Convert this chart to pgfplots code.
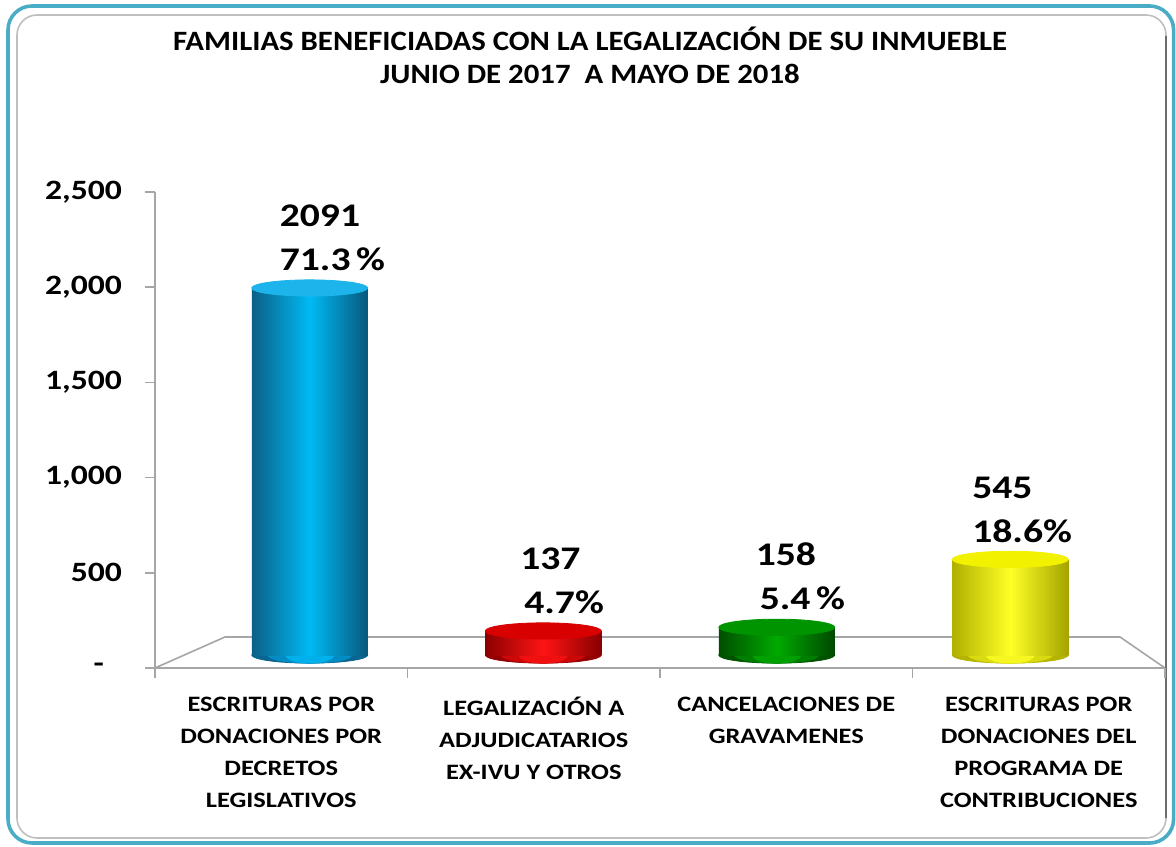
\documentclass[border=0pt]{standalone}
\usepackage{pgfplots}
\pgfplotsset{compat=1.18}
\usepackage{fontspec}
\setmainfont{Carlito}
\newfontfamily\titlefont[FakeStretch=1.1]{Carlito}
\newfontfamily\widefont[FakeStretch=1.2]{Carlito}
\definecolor{frameteal}{HTML}{4BACC6}
\definecolor{axgray}{HTML}{A6A6A6}
\definecolor{bL}{HTML}{0B5F86}\definecolor{bM}{HTML}{00BAF4}\definecolor{bR}{HTML}{08587C}\definecolor{bT}{HTML}{1CB4EA}
\definecolor{rL}{HTML}{8A0000}\definecolor{rM}{HTML}{FF1414}\definecolor{rR}{HTML}{880000}\definecolor{rT}{HTML}{D80000}
\definecolor{gL}{HTML}{004E00}\definecolor{gM}{HTML}{00AA00}\definecolor{gR}{HTML}{004800}\definecolor{gT}{HTML}{009400}
\definecolor{yL}{HTML}{B0B000}\definecolor{yM}{HTML}{FFFF26}\definecolor{yR}{HTML}{A4A400}\definecolor{yT}{HTML}{F2F200}
\definecolor{bB1}{HTML}{0A6590}\definecolor{bB2}{HTML}{048DC4}\definecolor{bB3}{HTML}{00B0EA}
\definecolor{rB1}{HTML}{950000}\definecolor{rB2}{HTML}{CC0808}\definecolor{rB3}{HTML}{F01010}
\definecolor{gB1}{HTML}{005400}\definecolor{gB2}{HTML}{007E00}\definecolor{gB3}{HTML}{00A000}
\definecolor{yB1}{HTML}{B4B400}\definecolor{yB2}{HTML}{DADA10}\definecolor{yB3}{HTML}{F6F620}
\newcommand\band[4]{\addplot[only marks, mark=*, mark size=#2, mark options={yscale=#3, fill=#4, draw=#4}] coordinates {(#1,0)};}
\pgfplotsset{barframe/.style={scale only axis, width=467pt, height=219.4pt,
  at={(96.5pt,95.5pt)}, anchor=south west,
  xmin=-0.5, xmax=3.5, ymin=0, ymax=2500, hide axis, clip=false}}
\begin{document}
\begin{tikzpicture}
\path[use as bounding box] (0pt,0pt) rectangle (588pt,423pt);
\draw[frameteal, line width=1.8pt, rounded corners=12pt] (4pt,1.5pt) rectangle (586.8pt,420pt);
\draw[gray!50, line width=0.8pt, rounded corners=10pt] (8.5pt,4pt) rectangle (583pt,415.5pt);
\draw[gray!85!black, line width=0.9pt] (583pt,405pt) -- (583pt,14pt);
\node[font=\titlefont\bfseries\fontsize{14}{16.5}\selectfont, align=center] at (295pt,395.5pt)
  {FAMILIAS BENEFICIADAS CON LA LEGALIZACIÓN DE SU INMUEBLE\\JUNIO DE 2017 \ A MAYO DE 2018};
% floor
\draw[axgray, line width=0.8pt] (77.5pt,89pt) -- (112.5pt,104.5pt) -- (560pt,104.5pt) -- (582.5pt,89pt);
\begin{axis}[
  scale only axis, width=505pt, height=238pt,
  at={(77.5pt,89pt)}, anchor=south west,
  xmin=-0.5, xmax=3.5, ymin=0, ymax=2500,
  axis x line*=bottom, axis y line*=left,
  axis line style={draw=axgray, line width=0.8pt},
  tick align=outside,
  xtick={0,1,2,3},
  xticklabels={{ESCRITURAS POR\\DONACIONES POR\\DECRETOS\\LEGISLATIVOS},
               {LEGALIZACIÓN A\\ADJUDICATARIOS\\EX-IVU Y OTROS},
               {CANCELACIONES DE\\GRAVAMENES},
               {ESCRITURAS POR\\DONACIONES DEL\\PROGRAMA DE\\CONTRIBUCIONES}},
  xticklabel style={align=center, font=\widefont\bfseries\fontsize{11}{16}\selectfont, yshift=-6pt},
  major x tick style={draw=none},
  extra x ticks={-0.5,0.5,1.5,2.5,3.5},
  extra x tick labels={},
  extra x tick style={major tick length=5pt, major x tick style={draw=axgray, line width=0.8pt}},
  ytick={0,500,1000,1500,2000,2500},
  yticklabels={{-\hspace*{9pt}},500,{1,000},{1,500},{2,000},{2,500}},
  yticklabel style={font=\widefont\bfseries\fontsize{14}{16}\selectfont, xshift=-8pt},
  major y tick style={draw=axgray, line width=0.8pt},
  major tick length=5pt,
]
\end{axis}
% rounded bottoms of the cylinders (banded to suggest shading)
\begin{axis}[barframe]
\band{0}{29pt}{0.14}{bB1}\band{0}{21pt}{0.1933}{bB2}\band{0}{12pt}{0.338}{bB3}
\band{1}{29pt}{0.14}{rB1}\band{1}{21pt}{0.1933}{rB2}\band{1}{12pt}{0.338}{rB3}
\band{2}{29pt}{0.14}{gB1}\band{2}{21pt}{0.1933}{gB2}\band{2}{12pt}{0.338}{gB3}
\band{3}{29pt}{0.14}{yB1}\band{3}{21pt}{0.1933}{yB2}\band{3}{12pt}{0.338}{yB3}
\end{axis}
\begin{axis}[barframe]
% bars
\addplot[ybar, bar width=58pt, bar shift=0pt, draw=none, left color=bL, right color=bR, middle color=bM] coordinates {(0,2091)};
\addplot[ybar, bar width=58pt, bar shift=0pt, draw=none, left color=rL, right color=rR, middle color=rM] coordinates {(1,137)};
\addplot[ybar, bar width=58pt, bar shift=0pt, draw=none, left color=gL, right color=gR, middle color=gM] coordinates {(2,158)};
\addplot[ybar, bar width=58pt, bar shift=0pt, draw=none, left color=yL, right color=yR, middle color=yM] coordinates {(3,545)};
% tops
\addplot[only marks, mark=*, mark size=29pt, mark options={yscale=0.14, fill=bT, draw=bT}] coordinates {(0,2091)};
\addplot[only marks, mark=*, mark size=29pt, mark options={yscale=0.14, fill=rT, draw=rT}] coordinates {(1,137)};
\addplot[only marks, mark=*, mark size=29pt, mark options={yscale=0.14, fill=gT, draw=gT}] coordinates {(2,158)};
\addplot[only marks, mark=*, mark size=29pt, mark options={yscale=0.14, fill=yT, draw=yT}] coordinates {(3,545)};
% labels
\pgfplotsset{every node near coord/.append style={font=\widefont\bfseries\fontsize{16.5}{22}\selectfont, align=left, anchor=south west, yshift=5pt, text=black}}
\addplot[draw=none, mark=none, nodes near coords={2091\\71.3\,\%}, nodes near coords style={xshift=-18.5pt}] coordinates {(0,2091)};
\addplot[draw=none, mark=none, nodes near coords={137\\\hspace*{2pt}4.7\%}, nodes near coords style={xshift=-15pt}] coordinates {(1,137)};
\addplot[draw=none, mark=none, nodes near coords={158\\\hspace*{2pt}5.4\,\%}, nodes near coords style={xshift=-14pt}] coordinates {(2,158)};
\addplot[draw=none, mark=none, nodes near coords={545\\18.6\%}, nodes near coords style={xshift=-22.5pt}] coordinates {(3,545)};
\end{axis}
\end{tikzpicture}
\end{document}
